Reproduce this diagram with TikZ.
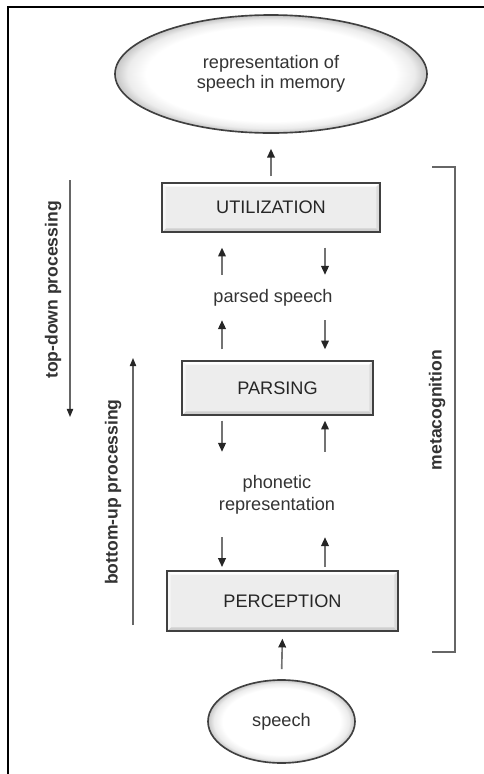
\documentclass[tikz,border=0pt]{standalone}
\usepackage{fontspec}
\setmainfont{Liberation Sans}
\usetikzlibrary{arrows.meta,shapes.geometric}

\pgfdeclareradialshading{rimshade}{\pgfpoint{0bp}{0bp}}{%
  color(0bp)=(white); color(20bp)=(white); color(23bp)=(gray!15);
  color(25bp)=(gray!45); color(50bp)=(gray!45)}

\tikzset{
  stagebox/.style={draw=black!75,line width=1.1pt,fill=gray!14,
    inner sep=0pt,text=black!85,font=\fontsize{15.5}{18}\selectfont,
    path picture={
      \coordinate (bbsw) at (path picture bounding box.south west);
      \coordinate (bbne) at (path picture bounding box.north east);
      \coordinate (bbse) at (path picture bounding box.south east);
      \coordinate (bbnw) at (path picture bounding box.north west);
      \fill[gray!38] (bbsw) -- (bbse) -- ([shift={(-3pt,3pt)}]bbse) -- ([shift={(3pt,3pt)}]bbsw) -- cycle;
      \fill[white] (bbnw) -- (bbne) -- ([shift={(-3pt,-3pt)}]bbne) -- ([shift={(3pt,-3pt)}]bbnw) -- cycle;
      \fill[gray!6] (bbsw) -- (bbnw) -- ([shift={(3pt,-3pt)}]bbnw) -- ([shift={(3pt,3pt)}]bbsw) -- cycle;
      \fill[gray!28] (bbse) -- (bbne) -- ([shift={(-3pt,-3pt)}]bbne) -- ([shift={(-3pt,3pt)}]bbse) -- cycle;
    }},
  blob/.style={ellipse,draw=black!75,line width=1.4pt,shading=rimshade,
    text=black!80,align=center,inner sep=0pt,
    font=\fontsize{15.5}{17}\selectfont},
  label/.style={text=black!80,align=center,inner sep=0pt,
    font=\fontsize{15.5}{18.5}\selectfont},
  sidelabel/.style={text=black!80,rotate=90,inner sep=0pt,
    font=\fontsize{15}{18}\bfseries\selectfont},
  flow/.style={draw=black!55,line width=1.4pt,
    -{Triangle[length=7.5pt,width=6.5pt,color=black!85]}},
  side/.style={draw=black!60,line width=1pt,
    -{Triangle[length=7pt,width=5.5pt,color=black!85]}},
}

\begin{document}
\begin{tikzpicture}[x=0.03cm,y=-0.03cm]
\useasboundingbox (0,0) rectangle (484,774);
% frame
\draw[line width=1.6pt] (484,7) -- (8,7) -- (8,774);

% ---------- nodes ----------
\node[blob,minimum width=9.36cm,minimum height=3.54cm] (mem) at (271,74)
  {representation of\\speech in memory};
\node[stagebox,minimum width=6.54cm,minimum height=1.47cm] (util) at (271,207.5) {UTILIZATION};
\node[label,minimum height=1.35cm] (parsed) at (273,297.5) {parsed speech};
\node[stagebox,minimum width=5.73cm,minimum height=1.62cm] (parsing) at (277.5,388) {PARSING};
\node[label,minimum height=2.55cm] (phonetic) at (277,494.5) {phonetic\\representation};
\node[stagebox,minimum width=6.93cm,minimum height=1.8cm] (perception) at (282.5,601) {PERCEPTION};
\node[blob,minimum width=4.41cm,minimum height=2.49cm] (speech) at (281.5,721.5) {speech};

\coordinate (lx) at (222,0);
\coordinate (rx) at (325,0);

% ---------- vertical flow ----------
\draw[flow,shorten <=0.18cm,shorten >=0.45cm] (util.north) -- (mem.south);
\draw[flow,shorten <=0.3cm,shorten >=0.21cm] (speech.north) -- (perception.south);

\draw[flow,shorten >=0.45cm] (parsed.north -| lx) -- (util.south -| lx);
\draw[flow,shorten <=0.33cm] (parsing.north -| lx) -- (parsed.south -| lx);
\draw[flow,shorten <=0.45cm] (util.south -| rx) -- (parsed.north -| rx);
\draw[flow,shorten >=0.33cm] (parsed.south -| rx) -- (parsing.north -| rx);

\draw[flow,shorten <=0.15cm] (parsing.south -| lx) -- (phonetic.north -| lx);
\draw[flow,shorten >=0.1cm] (phonetic.south -| lx) -- (perception.north -| lx);
\draw[flow,shorten >=0.15cm] (phonetic.north -| rx) -- (parsing.south -| rx);
\draw[flow,shorten <=0.1cm] (perception.north -| rx) -- (phonetic.south -| rx);

% ---------- processing directions ----------
\coordinate (td1) at (70,180);
\coordinate (td2) at (70,417);
\coordinate (bu1) at (133,625);
\coordinate (bu2) at (133,358);
\draw[side] (td1) -- (td2);
\draw[side] (bu1) -- (bu2);
\node[sidelabel] (tdlabel) at (53,290) {top-down processing};
\node[sidelabel] (bulabel) at (113,492) {bottom-up processing};

% ---------- metacognition bracket ----------
\coordinate (mc1) at (432,167);
\coordinate (mc2) at (455,167);
\coordinate (mc3) at (455,652);
\coordinate (mc4) at (432,652);
\draw[black!60,line width=1.3pt] (mc1) -- (mc2) -- (mc3) -- (mc4);
\node[sidelabel] (mclabel) at (437,410) {metacognition};
\end{tikzpicture}
\end{document}
